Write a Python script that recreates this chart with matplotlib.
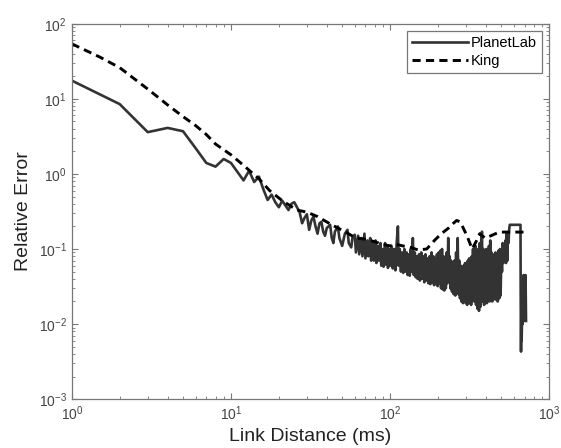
import matplotlib
matplotlib.use("Agg")
import matplotlib.pyplot as plt
from matplotlib.ticker import LogLocator, NullFormatter

plt.rcParams["font.family"] = ["Liberation Sans", "DejaVu Sans"]

# PlanetLab relative error vs link distance
planetlab_x = [
    1, 2, 3, 4, 5, 6, 7, 8, 9, 10, 12, 13, 14, 15, 16, 17, 18, 19, 20, 21,
    22, 23, 24, 25, 26, 27, 28, 29, 30, 31, 32, 33, 34, 35, 36, 37, 38, 39, 40, 42,
    43, 44, 45, 47, 48, 50, 52, 54, 55, 57, 58, 60, 61, 63, 64, 66, 67, 69, 70, 72,
    73, 75, 76, 78, 79, 81, 82, 84, 85, 87, 88, 90, 91, 93, 94, 96, 97, 99, 100, 102,
    104, 106, 108, 110, 112, 113, 115, 117, 119, 121, 123, 125, 127, 129, 131, 133, 135, 137, 139, 141,
    143, 145, 147, 149, 152, 154, 157, 159, 162, 164, 167, 169, 172, 174, 177, 179, 182, 184, 187, 189,
    192, 194, 197, 199, 202, 204, 207, 209, 212, 214, 217, 219, 222, 224, 227, 229, 232, 234, 237, 239,
    242, 245, 248, 251, 254, 257, 260, 263, 266, 269, 272, 275, 278, 281, 284, 287, 290, 293, 296, 299,
    302, 305, 308, 311, 314, 317, 320, 323, 326, 329, 332, 335, 338, 341, 344, 347, 350, 354, 358, 362,
    366, 370, 374, 378, 382, 386, 390, 394, 398, 402, 406, 410, 414, 418, 422, 426, 430, 434, 438, 442,
    446, 450, 455, 460, 465, 470, 475, 480, 485, 490, 495, 500, 505, 510, 515, 520, 525, 530, 535, 540,
    545, 550, 555, 560, 565, 600, 640, 660, 662, 665, 668, 671, 675, 680, 690, 695, 700, 705, 710, 715,
]
planetlab_y = [
    17.5, 8.5, 3.6, 4.1, 3.7, 2.2, 1.4, 1.25, 1.58, 1.4, 0.82, 1.1, 0.78, 0.92, 0.62, 0.45, 0.53, 0.42, 0.36, 0.44,
    0.38, 0.33, 0.40, 0.42, 0.36, 0.31, 0.22, 0.26, 0.29, 0.18, 0.24, 0.27, 0.20, 0.16, 0.22, 0.23, 0.17, 0.15, 0.19, 0.21,
    0.14, 0.12, 0.17, 0.20, 0.14, 0.11, 0.16, 0.18, 0.12, 0.105, 0.14, 0.155, 0.09, 0.15, 0.085, 0.14, 0.08, 0.16, 0.075, 0.13,
    0.08, 0.14, 0.07, 0.12, 0.07, 0.13, 0.065, 0.11, 0.07, 0.12, 0.06, 0.10, 0.058, 0.12, 0.062, 0.11, 0.056, 0.10, 0.06, 0.11,
    0.055, 0.10, 0.052, 0.12, 0.20, 0.06, 0.10, 0.05, 0.09, 0.048, 0.10, 0.05, 0.09, 0.045, 0.085, 0.044, 0.10, 0.05, 0.14, 0.045,
    0.09, 0.042, 0.08, 0.04, 0.085, 0.038, 0.09, 0.04, 0.08, 0.036, 0.085, 0.038, 0.075, 0.035, 0.08, 0.034, 0.09, 0.036, 0.08, 0.033,
    0.075, 0.034, 0.085, 0.032, 0.09, 0.035, 0.095, 0.03, 0.10, 0.029, 0.08, 0.028, 0.07, 0.03, 0.09, 0.035, 0.14, 0.04, 0.08, 0.03,
    0.07, 0.027, 0.065, 0.025, 0.07, 0.024, 0.09, 0.03, 0.14, 0.025, 0.07, 0.022, 0.06, 0.02, 0.055, 0.019, 0.06, 0.02, 0.065, 0.019,
    0.06, 0.018, 0.07, 0.02, 0.075, 0.019, 0.065, 0.018, 0.08, 0.02, 0.10, 0.022, 0.09, 0.02, 0.11, 0.018, 0.09, 0.016, 0.10, 0.015,
    0.12, 0.017, 0.13, 0.17, 0.02, 0.10, 0.018, 0.09, 0.02, 0.10, 0.019, 0.095, 0.021, 0.11, 0.02, 0.13, 0.022, 0.09, 0.02, 0.08,
    0.021, 0.085, 0.022, 0.09, 0.021, 0.08, 0.02, 0.095, 0.022, 0.10, 0.024, 0.08, 0.05, 0.12, 0.065, 0.10, 0.07, 0.13, 0.065, 0.16,
    0.07, 0.16, 0.12, 0.18, 0.21, 0.21, 0.21, 0.21, 0.02, 0.0043, 0.015, 0.006, 0.012, 0.01, 0.045, 0.011, 0.04, 0.012, 0.045, 0.011,
]

# King relative error vs link distance
king_x = [
    1, 1.5, 2, 3, 4, 5, 6, 7, 8, 9, 10, 12, 15, 17.5, 21, 26, 30, 35, 43, 52,
    61, 70, 80, 90, 100, 110, 120, 135, 150, 170, 190, 210, 233, 250, 262, 275, 285, 304, 328, 350,
    366, 395, 430, 460, 490, 550, 620, 720,
]
king_y = [
    54, 36, 26, 13.5, 8.3, 5.8, 4.4, 3.35, 2.5, 2.1, 1.8, 1.3, 0.86, 0.6, 0.44, 0.33, 0.31, 0.27, 0.21, 0.17,
    0.14, 0.135, 0.125, 0.115, 0.11, 0.115, 0.11, 0.105, 0.097, 0.10, 0.13, 0.16, 0.19, 0.22, 0.24, 0.23, 0.2, 0.15, 0.10, 0.13,
    0.16, 0.14, 0.15, 0.16, 0.168, 0.168, 0.168, 0.168,
]

fig = plt.figure(figsize=(5.61, 4.48), dpi=100)
ax = fig.add_axes([0.128, 0.109, 0.851, 0.838])

ax.plot(planetlab_x, planetlab_y, color="#333333", linewidth=1.9, label="PlanetLab")
ax.plot(king_x, king_y, color="black", linewidth=2.1, dashes=(2.8, 1.8), label="King")

ax.set_xscale("log")
ax.set_yscale("log")
ax.set_xlim(1, 1000)
ax.set_ylim(1e-3, 1e2)

ax.xaxis.set_major_locator(LogLocator(base=10, numticks=10))
ax.yaxis.set_major_locator(LogLocator(base=10, numticks=10))
ax.xaxis.set_minor_locator(LogLocator(base=10, subs=range(2, 10), numticks=20))
ax.yaxis.set_minor_locator(LogLocator(base=10, subs=range(2, 10), numticks=20))
ax.xaxis.set_minor_formatter(NullFormatter())
ax.yaxis.set_minor_formatter(NullFormatter())

gray = "#777777"
for s in ax.spines.values():
    s.set_color(gray)
    s.set_linewidth(0.9)
ax.tick_params(which="both", direction="in", top=True, right=True, colors=gray,
               labelcolor="#444444", labelsize=10)
ax.tick_params(which="major", length=4)
ax.tick_params(which="minor", length=2)

ax.set_xlabel("Link Distance (ms)", fontsize=14, color="#222222", labelpad=4)
ax.set_ylabel("Relative Error", fontsize=14, color="#222222", labelpad=5)

leg = ax.legend(loc="upper right", fontsize=10.5, handlelength=3.8, handletextpad=0.2,
                borderpad=0.35, labelspacing=0.25, fancybox=False, framealpha=1,
                borderaxespad=0.5)
leg.get_frame().set_edgecolor(gray)
leg.get_frame().set_linewidth(0.9)

fig.savefig("out.png", dpi=100)
